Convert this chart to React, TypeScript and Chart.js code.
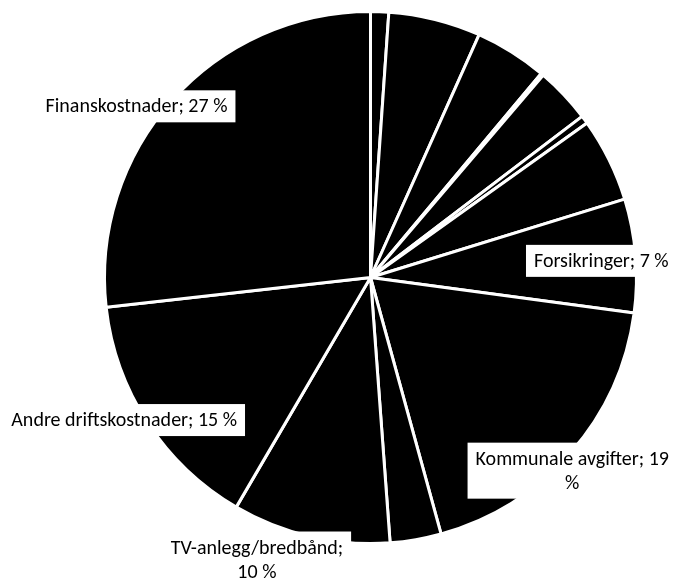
import React, { useEffect, useRef } from "react";
import { Chart, registerables } from "chart.js";

Chart.register(...registerables);

// Categories clockwise from 12 o'clock
const categories: string[] = [
  "Styrehonorar",
  "Forretningsførsel",
  "Vedlikehold",
  "Revisjon",
  "Renhold",
  "Kontorkostnader",
  "Energi",
  "Forsikringer",
  "Kommunale avgifter",
  "Vaktmester",
  "TV-anlegg/bredbånd",
  "Andre driftskostnader",
  "Finanskostnader",
];
const values: number[] = [1.1, 5.6, 4.4, 0.15, 3.4, 0.5, 5.1, 6.9, 18.6, 3.1, 9.6, 14.8, 26.8];
// Which slices carry a data label
const showLabel: boolean[] = [false, false, false, false, false, false, false, true, true, false, true, true, true];

// Label placement (style): angle offset in degrees, radial factor, trailing words wrapped to 2nd line
const labelPlacement: Record<number, { off: number; f: number; wrap: number }> = {
  7: { off: 0.6, f: 0.87, wrap: 0 },
  8: { off: 2.6, f: 1.05, wrap: 1 },
  10: { off: 8.9, f: 1.143, wrap: 2 },
  11: { off: 3.0, f: 1.07, wrap: 0 },
  12: { off: -5.6, f: 1.09, wrap: 0 },
};

const FONT_SIZE = 20;
const FONT_FAMILY = "Carlito, Calibri, Lato, sans-serif";
const LINE_H = 24;
const PAD_X = 8;
const PAD_Y = 4;

const labelPlugin = {
  id: "pieLabels",
  afterDatasetsDraw(chart: any) {
    const ctx = chart.ctx as CanvasRenderingContext2D;
    const meta = chart.getDatasetMeta(0);
    const data = chart.data.datasets[0].data as number[];
    const total = data.reduce((a, b) => a + b, 0);
    ctx.save();
    ctx.font = `${FONT_SIZE}px ${FONT_FAMILY}`;
    ctx.textAlign = "center";
    ctx.textBaseline = "middle";
    meta.data.forEach((arc: any, i: number) => {
      if (!showLabel[i]) return;
      const pl = labelPlacement[i] || { off: 0, f: 1, wrap: 0 };
      const p = arc.getProps(["x", "y", "startAngle", "endAngle", "outerRadius"], true);
      const mid = (p.startAngle + p.endAngle) / 2 + (pl.off * Math.PI) / 180;
      const cx = p.x + Math.cos(mid) * p.outerRadius * pl.f;
      const cy = p.y + Math.sin(mid) * p.outerRadius * pl.f;
      const pct = Math.round((data[i] / total) * 100);
      const words = `${chart.data.labels[i]}; ${pct} %`.split(" ");
      const lines =
        pl.wrap > 0
          ? [words.slice(0, words.length - pl.wrap).join(" "), words.slice(words.length - pl.wrap).join(" ")]
          : [words.join(" ")];
      const w = Math.max(...lines.map((l) => ctx.measureText(l).width)) + PAD_X * 2;
      const h = lines.length * LINE_H + PAD_Y * 2;
      ctx.fillStyle = "#ffffff";
      ctx.fillRect(cx - w / 2, cy - h / 2, w, h);
      ctx.fillStyle = "#000000";
      lines.forEach((l, k) => {
        ctx.fillText(l, cx, cy - h / 2 + PAD_Y + LINE_H * k + LINE_H / 2 + 1);
      });
    });
    ctx.restore();
  },
};

export default function App() {
  const ref = useRef<HTMLCanvasElement | null>(null);
  useEffect(() => {
    if (!ref.current) return;
    const chart = new Chart(ref.current, {
      type: "pie",
      data: {
        labels: categories,
        datasets: [
          {
            data: values,
            backgroundColor: "#000000",
            borderColor: "#ffffff",
            borderWidth: 3,
          },
        ],
      },
      options: {
        animation: false,
        responsive: true,
        maintainAspectRatio: false,
        layout: { padding: { left: 103, right: 37, top: 10, bottom: 37 } },
        plugins: {
          legend: { display: false },
          tooltip: { enabled: false },
        },
      },
      plugins: [labelPlugin],
    });
    return () => chart.destroy();
  }, []);
  return (
    <div style={{ position: "absolute", left: 0, top: 0, width: 675, height: 582, background: "#fff" }}>
      <canvas ref={ref} />
    </div>
  );
}
